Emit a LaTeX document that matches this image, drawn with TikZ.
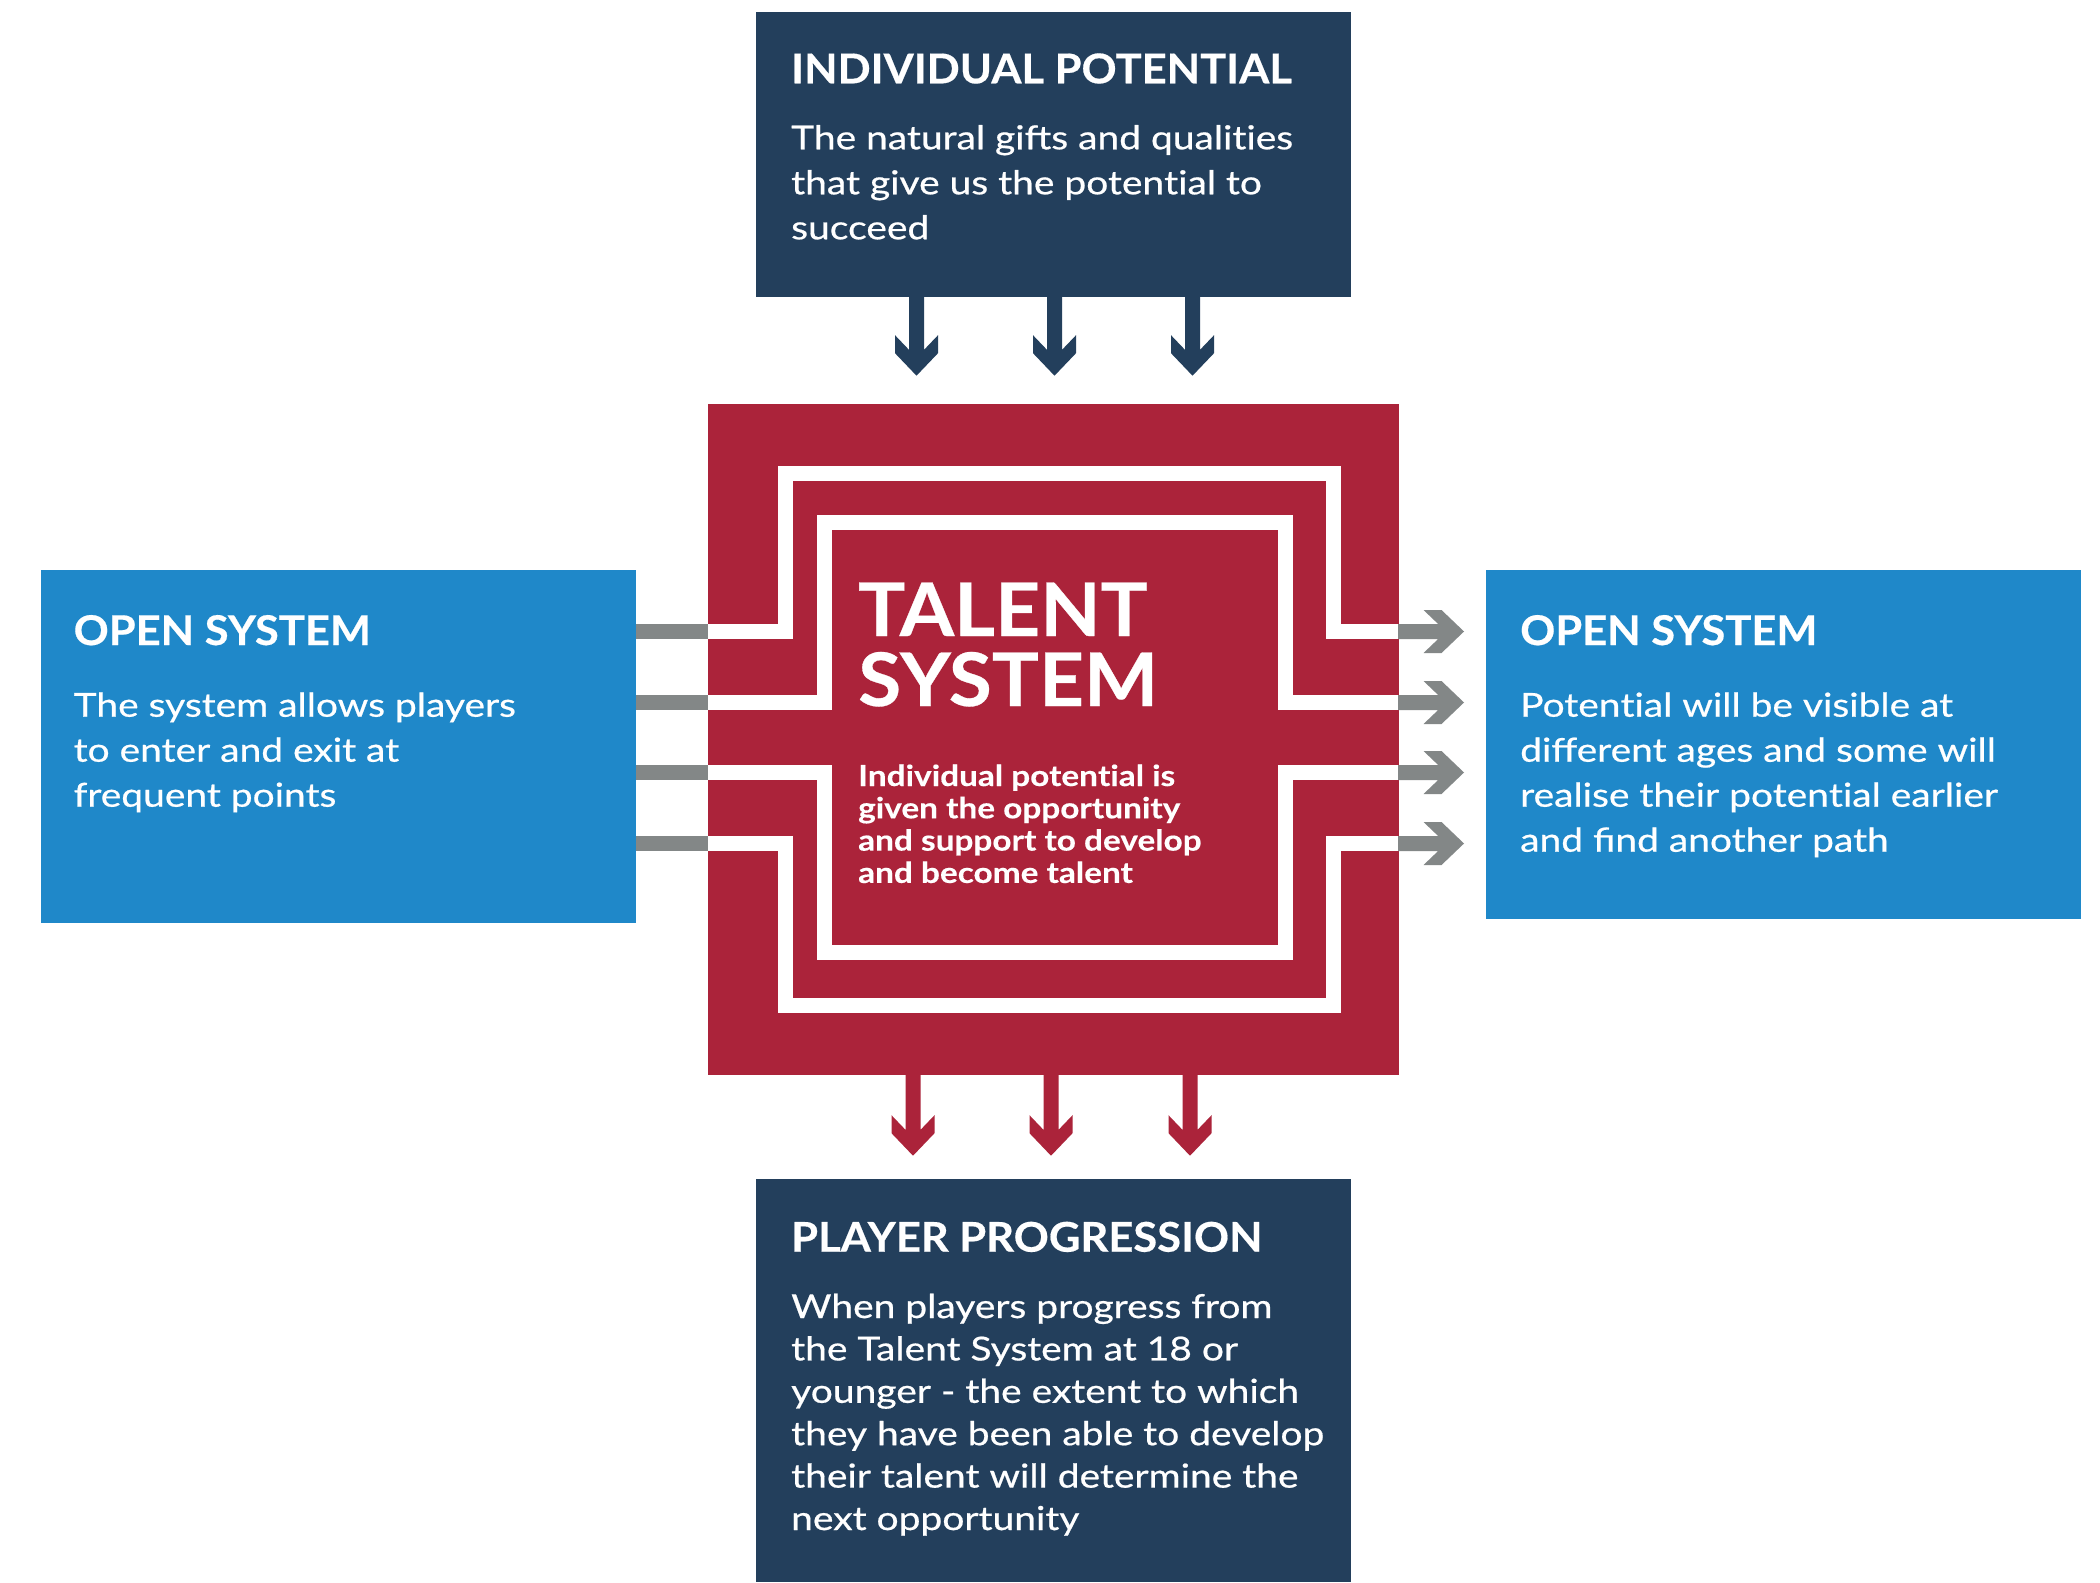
\documentclass[tikz,border=0pt]{standalone}
\usepackage{fontspec}
\setmainfont{Lato}
\newfontfamily\headfont[FakeStretch=1.06, FakeBold=0.4]{Lato}
\newfontfamily\bodyfont[FakeStretch=1.18, FakeBold=0.6]{Lato}
\newfontfamily\subfont[FakeStretch=1.15, FakeBold=0.3]{Lato}
\newcommand\nolig{\kern0pt }
\usetikzlibrary{calc}
\definecolor{navy}{RGB}{35,63,92}
\definecolor{tred}{RGB}{171,35,58}
\definecolor{tblue}{RGB}{31,136,201}
\definecolor{tgray}{RGB}{131,135,135}
\tikzset{
  boxshape/.style={inner sep=0pt, outer sep=0pt, anchor=north west},
  whiteline/.style={draw=white, line width=15pt, line join=miter},
  graystub/.style={draw=tgray, line width=15pt},
  headtxt/.style={anchor=base west, inner sep=0pt, text=white, font=\headfont\bfseries\fontsize{41}{45}\selectfont},
  bodytxt/.style={anchor=base west, inner sep=0pt, text=white},
  pics/chevR/.style={code={
    \fill (-#1,-7.5) -- (-25.85,-7.5) -- (-40.5,-21.5) -- (-22.5,-21.5) -- (0,0)
      -- (-22.5,21.5) -- (-40.5,21.5) -- (-25.85,7.5) -- (-#1,7.5) -- cycle;
  }}
}
\newcommand\bodypar[3]{\parbox[t]{#1pt}{\raggedright\bodyfont\fontsize{33}{#2}\selectfont #3}}
\begin{document}
\begin{tikzpicture}[x=1pt,y=-1pt]
\useasboundingbox (0,0) rectangle (2100,1582);
\fill[white] (0,0) rectangle (2100,1582);
% boxes
\node[boxshape, fill=navy, minimum width=595pt, minimum height=285pt] (ip) at (756,12) {};
\node[boxshape, fill=tblue, minimum width=595pt, minimum height=353pt] (osl) at (41,570) {};
\node[boxshape, fill=tblue, minimum width=595pt, minimum height=349pt] (osr) at (1486,570) {};
\node[boxshape, fill=navy, minimum width=595pt, minimum height=403pt] (pp) at (756,1179) {};
\node[boxshape, fill=tred, minimum width=691pt, minimum height=671pt] (ts) at (708,404) {};
% line levels
\coordinate (l1) at (0,631.5);
\coordinate (l2) at (0,702.5);
\coordinate (l3) at (0,772.5);
\coordinate (l4) at (0,843.5);
% white paths inside the talent system
\draw[whiteline] (ts.west |- l1) -- (785.5,631.5) -- (785.5,473.5) -- (1333.5,473.5) -- (1333.5,631.5) -- (ts.east |- l1);
\draw[whiteline] (ts.west |- l2) -- (824.5,702.5) -- (824.5,522.5) -- (1285.5,522.5) -- (1285.5,702.5) -- (ts.east |- l2);
\draw[whiteline] (ts.west |- l3) -- (824.5,772.5) -- (824.5,952) -- (1285.5,952) -- (1285.5,772.5) -- (ts.east |- l3);
\draw[whiteline] (ts.west |- l4) -- (785.5,843.5) -- (785.5,1005) -- (1333.5,1005) -- (1333.5,843.5) -- (ts.east |- l4);
% gray stubs from left box
\foreach \l in {l1,l2,l3,l4} \draw[graystub] (osl.east |- \l) -- (ts.west |- \l);
% gray arrows to right box
\foreach \l in {l1,l2,l3,l4} \pic[tgray] at ($(ts.east |- \l)+(65,0)$) {chevR=66};
% down arrows from top box
\foreach \dx in {160.5,298.5,436.5} \pic[navy, rotate=-90] at ($(ip.south west)+(\dx,78.7)$) {chevR=80};
% down arrows from talent system
\foreach \dx in {205,343,482} \pic[tred, rotate=-90] at ($(ts.south west)+(\dx,80.7)$) {chevR=82};
% texts
\node[headtxt] (iph) at (791,83.3) {INDIVIDUAL POTENTIAL};
\node[bodytxt] (ipb) at (791,149.3) {\bodypar{560}{45}{The natural gifts and quali\nolig t\nolig ies\\ that give us the poten\nolig t\nolig ial to\\ succeed}};
\node[headtxt] (oslh) at (73.5,645) {OPEN SYSTEM};
\node[bodytxt] (oslb) at (73.5,716.7) {\bodypar{560}{45}{The system allows players\\ to enter and exit at\\ frequent points}};
\node[headtxt] (osrh) at (1520,645) {OPEN SYSTEM};
\node[bodytxt] (osrb) at (1520,716.7) {\bodypar{560}{45}{Poten\nolig t\nolig ial will be visible at\\ different ages and some will\\ realise their poten\nolig t\nolig ial earlier\\ and find another path}};
\node[headtxt] (pph) at (791,1251.7) {PLAYER PROGRESSION};
\node[bodytxt] (ppb) at (791,1318) {\bodypar{560}{42.4}{When players progress from\\ the Talent System at 18 or\\ younger - the extent to which\\ they have been able to develop\\ their talent will determine the\\ next opportunity}};
\node[bodytxt] (tsh) at (858,636) {\parbox[t]{500pt}{\raggedright\headfont\bfseries\fontsize{74}{70}\selectfont TALENT\\ SYSTEM}};
\node[bodytxt] (tsb) at (858,786) {\parbox[t]{500pt}{\raggedright\subfont\bfseries\fontsize{29}{32.3}\selectfont Individual poten\nolig t\nolig ial is\\ given the opportunity\\ and support to develop\\ and become talent}};
\end{tikzpicture}
\end{document}
